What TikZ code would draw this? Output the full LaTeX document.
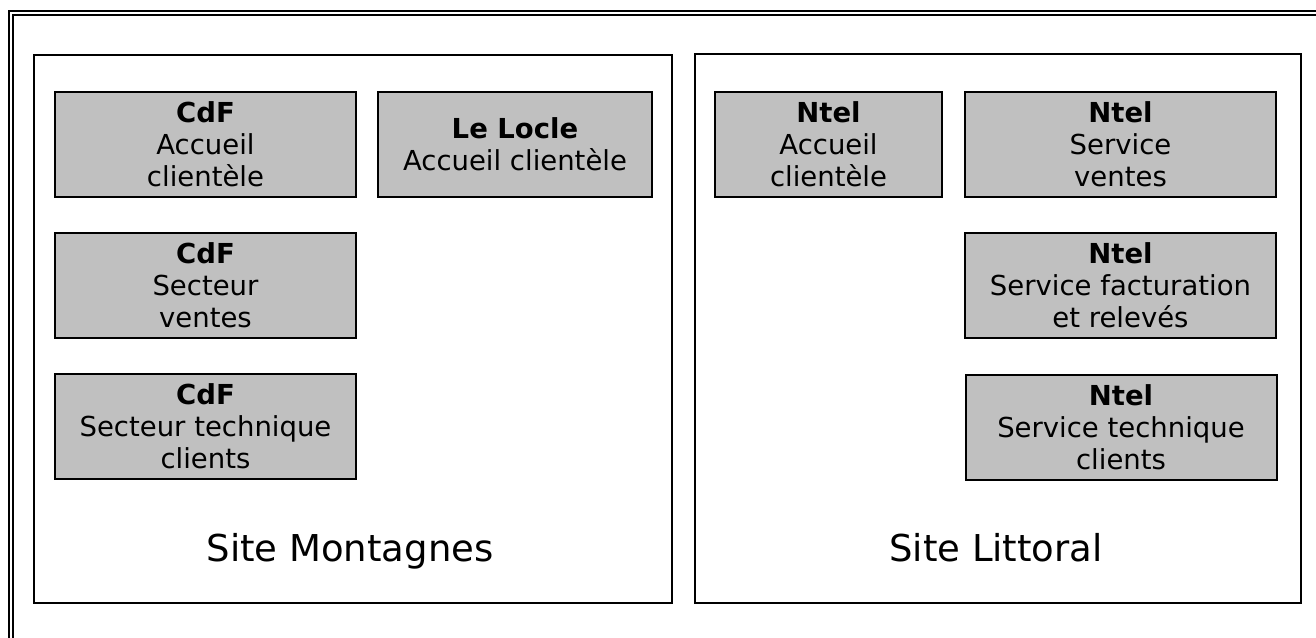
\documentclass[tikz,border=0pt]{standalone}
\usepackage{fontspec}
\setmainfont{DejaVu Sans}
\begin{document}
\begin{tikzpicture}[x=1pt,y=-1pt,
  unit/.style={draw=black,line width=2pt,fill=gray75,inner sep=0pt,
    minimum height=105pt,align=center,
    font=\fontsize{27.5pt}{32pt}\selectfont},
  site/.style={draw=black,line width=2pt,inner sep=0pt},
  sitelabel/.style={inner sep=0pt,anchor=base,font=\fontsize{37pt}{44pt}\selectfont}]
\definecolor{gray75}{HTML}{C0C0C0}
\useasboundingbox (0,0) rectangle (1316,637);
\clip (0,0) rectangle (1316,637);
% outer double frame (cut off at right and bottom)
\draw[line width=2pt] (9,10.5) rectangle (1340,660);
\draw[line width=2pt] (13,14.5) rectangle (1336,656);
% sites
\node[site,minimum width=638pt,minimum height=548pt] (montagnes) at (353,329) {};
\node[site,minimum width=606pt,minimum height=549pt] (littoral) at (998,328.5) {};
\node[sitelabel] (lblm) at (350,561) {Site Montagnes};
\node[sitelabel] (lbll) at (996,561) {Site Littoral};
% units
\node[unit,minimum width=301pt] (a1) at (205.5,144.5) {\textbf{CdF}\\Accueil\\clientèle};
\node[unit,minimum width=274pt] (a2) at (515,144.5) {\textbf{Le Locle}\\Accueil clientèle};
\node[unit,minimum width=301pt] (a3) at (205.5,285.5) {\textbf{CdF}\\Secteur\\ventes};
\node[unit,minimum width=301pt] (a4) at (205.5,426.5) {\textbf{CdF}\\Secteur technique\\clients};
\node[unit,minimum width=227pt] (b1) at (828.5,144.5) {\textbf{Ntel}\\Accueil\\clientèle};
\node[unit,minimum width=311pt] (b2) at (1120.5,144.5) {\textbf{Ntel}\\Service\\ventes};
\node[unit,minimum width=311pt] (b3) at (1120.5,285.5) {\textbf{Ntel}\\Service facturation\\et relevés};
\node[unit,minimum width=311pt] (b4) at (1121,427.5) {\textbf{Ntel}\\Service technique\\clients};
\end{tikzpicture}
\end{document}
